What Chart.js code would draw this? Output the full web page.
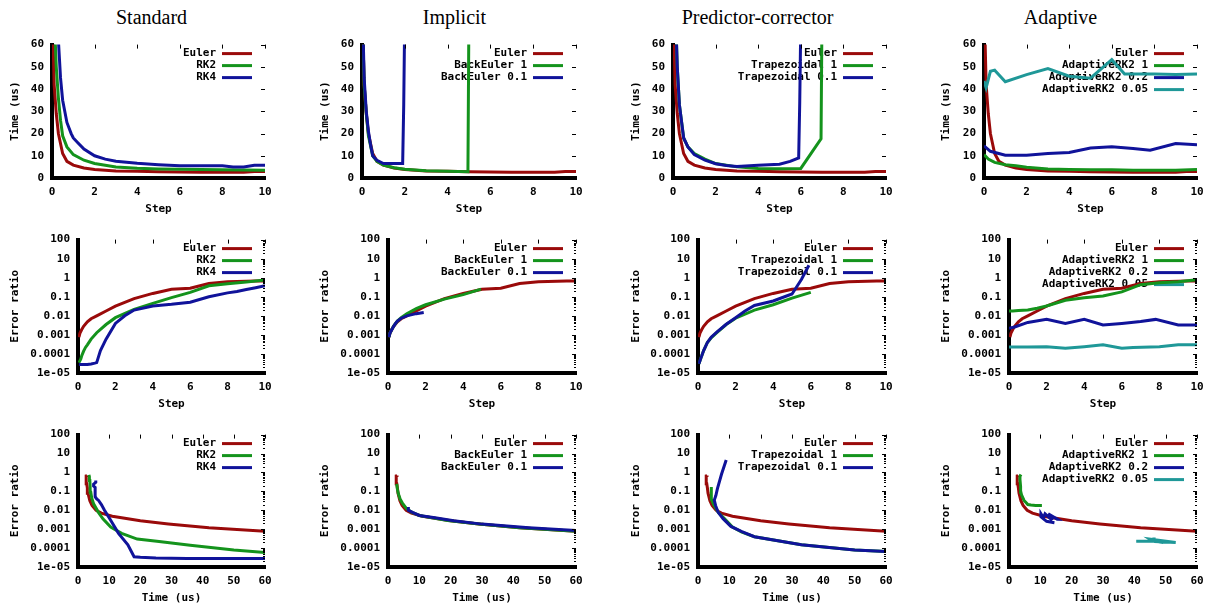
<!DOCTYPE html>
<html>
<head>
<meta charset="utf-8">
<script src="https://cdn.jsdelivr.net/npm/chart.js@4"></script>
<style>
  body { margin: 0; background: #fff; }
  #wrap { position: relative; width: 1212px; height: 608px; overflow: hidden; }
  .coltitle { position: absolute; top: 5px; width: 303px; text-align: center;
    font: 20px "Liberation Serif", "Times New Roman", serif; line-height: 24px; color: #000; }
  canvas { position: absolute; }
</style>
</head>
<body>
<div id="wrap"></div>
<script>
const columnTitles = ['Standard', 'Implicit', 'Predictor-corrector', 'Adaptive'];

const logTicks = [1e-5, 1e-4, 1e-3, 1e-2, 1e-1, 1, 10, 100];
const logTickLabels = ['1e-05', '0.0001', '0.001', '0.01', '0.1', '1', '10', '100'];

// Euler (shared by every column)
const eulerStep = [0.05, 0.1, 0.2, 0.3, 0.5, 0.7, 1, 1.5, 2, 3, 4, 5, 6, 7, 8, 9, 9.5, 10];
const eulerTime = [62, 42, 29, 20, 11, 7.5, 5.8, 4.5, 3.8, 3.2, 3.0, 2.8, 2.7, 2.6, 2.6, 2.6, 2.9, 2.9];
const eulerErr  = [7.5e-4, 1.2e-3, 1.9e-3, 2.8e-3, 4.8e-3, 7e-3, 0.01, 0.018, 0.032, 0.08, 0.15, 0.25, 0.28, 0.5, 0.62, 0.65, 0.67, 0.68];

// Standard
const rk2Step = [0.05, 0.15, 0.2, 0.3, 0.4, 0.5, 0.7, 1, 1.5, 2, 3, 4, 5, 6, 7, 8, 9, 10];
const rk2Time = [150, 62, 50, 36, 26, 19, 14, 10.5, 8, 6.5, 5, 4.4, 4.1, 3.9, 3.8, 3.7, 3.6, 3.5];
const rk2Err  = [3.5e-5, 5.5e-5, 8e-5, 1.4e-4, 2.2e-4, 3e-4, 6e-4, 1.3e-3, 3.5e-3, 8e-3, 0.022, 0.045, 0.09, 0.17, 0.38, 0.48, 0.6, 0.75];

const rk4Step = [0.05, 0.3, 0.4, 0.5, 0.7, 0.9, 1, 1.2, 1.5, 2, 2.5, 3, 4, 5, 6, 7, 8, 8.5, 9, 9.5, 10];
const rk4Time = [200, 62, 45, 35, 25, 20, 18, 16, 13, 10, 8.5, 7.5, 6.6, 6, 5.5, 5.5, 5.5, 5, 5, 5.7, 5.7];
const rk4Err  = [2.8e-5, 2.8e-5, 2.8e-5, 2.8e-5, 3e-5, 3.3e-5, 3.5e-5, 1.5e-4, 6e-4, 4e-3, 0.01, 0.02, 0.033, 0.04, 0.052, 0.1, 0.16, 0.19, 0.24, 0.3, 0.38];

// Implicit
const be1Step = [0.05, 0.1, 0.2, 0.3, 0.5, 0.7, 1, 1.5, 2, 3, 4, 4.95, 5.0];
const be1Time = [62, 42, 29, 19, 10, 7.5, 5.8, 4.6, 3.9, 3.3, 3.0, 2.8, 80];
const be1Err  = [7.5e-4, 1.2e-3, 1.9e-3, 2.9e-3, 5.3e-3, 8e-3, 0.013, 0.024, 0.038, 0.075, 0.13, 0.25, null];

const be01Step = [0.05, 0.1, 0.2, 0.3, 0.4, 0.5, 0.7, 1, 1.5, 1.9, 1.95, 2.0];
const be01Time = [66, 45, 30, 21, 15, 10, 8, 6.5, 6.5, 6.5, 33, 75];
const be01Err  = [7.5e-4, 1.2e-3, 1.85e-3, 2.8e-3, 4e-3, 5.3e-3, 7.5e-3, 0.01, 0.013, 0.015, null, null];

// Predictor-corrector
const tr1Step = [0.05, 0.15, 0.2, 0.3, 0.5, 0.7, 1, 1.5, 2, 3, 4, 5, 6, 6.95, 7.0];
const tr1Time = [150, 65, 50, 33, 18, 14, 11, 8.5, 6.5, 5, 4.3, 4.2, 4.3, 17.6, 80];
const tr1Err  = [3e-5, 6e-5, 8e-5, 1.5e-4, 4e-4, 7e-4, 1.3e-3, 3.5e-3, 7.5e-3, 0.02, 0.038, 0.085, 0.17, null, null];

const tr01Step = [0.05, 0.15, 0.2, 0.3, 0.5, 0.7, 1, 1.5, 2, 2.5, 3, 4, 5, 5.5, 5.9, 5.95, 6.0];
const tr01Time = [150, 65, 50, 33, 18, 14, 10.5, 8, 6.4, 5.6, 5.2, 5.7, 6.2, 7.5, 9, 34, 70];
const tr01Err  = [3e-5, 6e-5, 8e-5, 1.5e-4, 4e-4, 7.5e-4, 1.4e-3, 3.6e-3, 8e-3, 0.018, 0.035, 0.06, 0.14, 0.8, 4.5, null, null];

// Adaptive
const ad1Step = [0, 0.2, 0.5, 1, 1.5, 2, 3, 4, 5, 6, 7, 8, 9, 10];
const ad1Time = [10.5, 8.5, 7, 6, 5.5, 4.8, 4, 3.8, 3.7, 3.7, 3.5, 3.5, 3.5, 3.8];
const ad1Err  = [0.018, 0.018, 0.019, 0.02, 0.025, 0.033, 0.065, 0.09, 0.11, 0.18, 0.43, 0.55, 0.62, 0.78];

const ad02Step = [0, 0.3, 1, 2, 3, 4, 5, 6, 7, 7.8, 9, 10];
const ad02Time = [14.5, 12, 10.2, 10.2, 11, 11.5, 13.5, 14, 13.3, 12.5, 15.5, 15];
const ad02Err  = [2.2e-3, 2.6e-3, 4.5e-3, 6.5e-3, 4e-3, 6.5e-3, 3.3e-3, 4e-3, 5e-3, 6.5e-3, 3.3e-3, 3.3e-3];

const ad005Step = [0, 0.1, 0.3, 0.5, 1, 2, 3, 4, 5, 6, 6.6, 8, 9, 10];
const ad005Time = [43.6, 40.6, 48, 48.5, 43.3, 46.5, 49.2, 45.8, 44.9, 53.2, 46.8, 46.8, 46.5, 46.8];
const ad005Err  = [2.3e-4, 2.3e-4, 2.3e-4, 2.3e-4, 2.3e-4, 2.4e-4, 2e-4, 2.4e-4, 3e-4, 2e-4, 2.2e-4, 2.4e-4, 3e-4, 3e-4];

const RED = '#9a0a0a', GREEN = '#14931c', BLUE = '#10139a', TEAL = '#1f9898';

const euler = { label: 'Euler', color: RED, step: eulerStep, time: eulerTime, err: eulerErr };
const columns = [
  [euler,
   { label: 'RK2', color: GREEN, step: rk2Step, time: rk2Time, err: rk2Err },
   { label: 'RK4', color: BLUE, step: rk4Step, time: rk4Time, err: rk4Err }],
  [euler,
   { label: 'BackEuler 1', color: GREEN, step: be1Step, time: be1Time, err: be1Err },
   { label: 'BackEuler 0.1', color: BLUE, step: be01Step, time: be01Time, err: be01Err }],
  [euler,
   { label: 'Trapezoidal 1', color: GREEN, step: tr1Step, time: tr1Time, err: tr1Err },
   { label: 'Trapezoidal 0.1', color: BLUE, step: tr01Step, time: tr01Time, err: tr01Err }],
  [euler,
   { label: 'AdaptiveRK2 1', color: GREEN, step: ad1Step, time: ad1Time, err: ad1Err },
   { label: 'AdaptiveRK2 0.2', color: BLUE, step: ad02Step, time: ad02Time, err: ad02Err },
   { label: 'AdaptiveRK2 0.05', color: TEAL, step: ad005Step, time: ad005Time, err: ad005Err }]
];

// panel geometry (plot area edges in page pixels)
const canvasLeft = [5, 315, 626, 936];
const plotLeft = [[52, 362, 673, 984], [78, 388, 698, 1009], [78, 388, 698, 1009]];
const plotRight = [265, 576, 886, 1197];
const plotTop = [43, 238, 433];
const plotBottom = [178, 373, 567];

const monoFont = { family: 'DejaVu Sans Mono', size: 11, weight: 'bold' };

// gnuplot-style key: text right aligned, sample line to its right
const gpLegend = {
  id: 'gpLegend',
  beforeDatasetsDraw(chart) {
    const { ctx, chartArea } = chart;
    ctx.save();
    ctx.font = 'bold 11px "DejaVu Sans Mono"';
    ctx.textAlign = 'right';
    ctx.textBaseline = 'middle';
    chart.data.datasets.forEach((ds, i) => {
      const y = chartArea.top + 9 + i * 12;
      const x1 = chartArea.right - 43, x2 = chartArea.right - 13;
      ctx.fillStyle = '#000';
      ctx.fillText(ds.label, x1 - 6, y);
      ctx.strokeStyle = ds.borderColor;
      ctx.lineWidth = 3;
      ctx.beginPath();
      ctx.moveTo(x1, y);
      ctx.lineTo(x2, y);
      ctx.stroke();
    });
    ctx.restore();
  }
};

// small inward ticks mirrored on the top and right edges
const gpMirror = {
  id: 'gpMirror',
  afterDraw(chart) {
    const { ctx, chartArea: a, scales: { x, y } } = chart;
    ctx.save();
    ctx.strokeStyle = '#000';
    ctx.lineWidth = 1;
    ctx.beginPath();
    x.ticks.forEach(t => {
      if (t.value <= x.min) return;
      const px = Math.round(x.getPixelForValue(t.value)) + 0.5;
      ctx.moveTo(px, a.top);
      ctx.lineTo(px, a.top + 4);
    });
    y.ticks.forEach(t => {
      if (t.value <= y.min) return;
      const py = Math.round(y.getPixelForValue(t.value)) + 0.5;
      ctx.moveTo(a.right, py);
      ctx.lineTo(a.right - 4, py);
    });
    if (y.type === 'logarithmic') {
      logTicks.slice(0, -1).forEach(d => {
        for (let k = 2; k <= 9; k++) {
          const py = Math.round(y.getPixelForValue(d * k)) + 0.5;
          ctx.moveTo(a.right, py);
          ctx.lineTo(a.right - 2, py);
        }
      });
    }
    ctx.stroke();
    ctx.restore();
  }
};

const wrap = document.getElementById('wrap');

columnTitles.forEach((t, c) => {
  const d = document.createElement('div');
  d.className = 'coltitle';
  d.style.left = (c * 303) + 'px';
  d.textContent = t;
  wrap.appendChild(d);
});

function makePanel(col, row) {
  const left = canvasLeft[col];
  const top = plotTop[row] - 13;
  const width = plotRight[col] + 15 - left;
  const height = plotBottom[row] + 40 - top;
  const yWidth = plotLeft[row][col] - left;

  const canvas = document.createElement('canvas');
  canvas.width = width;
  canvas.height = height;
  canvas.style.left = left + 'px';
  canvas.style.top = top + 'px';
  canvas.style.width = width + 'px';
  canvas.style.height = height + 'px';
  wrap.appendChild(canvas);

  const series = columns[col];
  const datasets = series.map((s, i) => ({
    label: s.label,
    borderColor: s.color,
    backgroundColor: s.color,
    order: series.length - 1 - i,
    data: s.step.map((st, j) => {
      if (row === 0) return { x: st, y: s.time[j] };
      if (row === 1) return { x: st, y: s.err[j] };
      return { x: s.time[j], y: s.err[j] };
    })
  }));

  const logY = row > 0;
  const yScale = logY ? {
    type: 'logarithmic', min: 1e-5, max: 100,
    afterBuildTicks: s => { s.ticks = logTicks.map(v => ({ value: v })); },
    ticks: { callback: v => logTickLabels[logTicks.indexOf(v)], autoSkip: false, padding: 8, font: monoFont, color: '#000' }
  } : {
    type: 'linear', min: 0, max: 60,
    ticks: { stepSize: 10, autoSkip: false, padding: 8, font: monoFont, color: '#000' }
  };
  Object.assign(yScale, {
    position: 'left',
    grid: { display: false, drawTicks: false },
    border: { display: true, width: 4, color: '#000' },
    title: { display: true, text: logY ? 'Error ratio' : 'Time (us)', font: monoFont, color: '#000', padding: { top: 3.5, bottom: 0 } },
    afterFit: s => { s.width = yWidth; }
  });

  new Chart(canvas, {
    type: 'line',
    data: { datasets },
    options: {
      responsive: false,
      animation: false,
      devicePixelRatio: 1,
      layout: { padding: { top: 13, right: 15, left: 0, bottom: 0 } },
      elements: { point: { radius: 0 }, line: { borderWidth: 3, tension: 0 } },
      plugins: { legend: { display: false }, tooltip: { enabled: false } },
      scales: {
        x: {
          type: 'linear', position: 'bottom',
          min: 0, max: row === 2 ? 60 : 10,
          ticks: { stepSize: row === 2 ? 10 : 2, autoSkip: false, maxRotation: 0, padding: 8, font: monoFont, color: '#000' },
          grid: { display: false, drawTicks: false },
          border: { display: true, width: 4, color: '#000' },
          title: { display: true, text: row === 2 ? 'Time (us)' : 'Step', font: monoFont, color: '#000', padding: { top: 0, bottom: 2.5 } },
          afterFit: s => { s.height = 40; }
        },
        y: yScale
      }
    },
    plugins: [gpLegend, gpMirror]
  });
}

for (let row = 0; row < 3; row++) {
  for (let col = 0; col < 4; col++) makePanel(col, row);
}
</script>
</body>
</html>
